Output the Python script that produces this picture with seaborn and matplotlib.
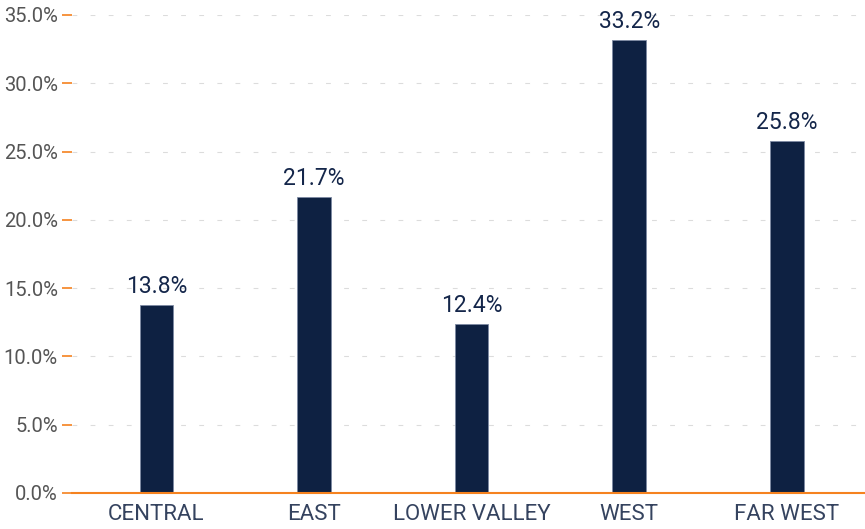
import matplotlib
matplotlib.use("Agg")
import matplotlib.pyplot as plt
import seaborn as sns
import pandas as pd

# data
regions = ["CENTRAL", "EAST", "LOWER VALLEY", "WEST", "FAR WEST"]
shares = [13.8, 21.7, 12.4, 33.2, 25.8]
y_ticks = [0, 5, 10, 15, 20, 25, 30, 35]

navy = "#0e2142"
orange = "#f5821f"

sns.set_theme(style="white")
plt.rcParams["font.family"] = ["Roboto", "DejaVu Sans"]

df = pd.DataFrame({"region": regions, "share": shares})

fig = plt.figure(figsize=(8.65, 5.29), dpi=100)
ax = fig.add_axes([72 / 865, 36 / 529, 793 / 865, 478 / 529])

sns.barplot(data=df, x="region", y="share", color=navy, width=0.213,
            edgecolor="#7d8aa3", linewidth=0.6, saturation=1, ax=ax, zorder=3)

# value labels
ax.bar_label(ax.containers[0], labels=[f"{v:.1f}%" for v in shares],
             padding=5, fontsize=16.5, color="#14264a")

ax.set_xlim(-0.536, 4.496)
ax.set_ylim(0, 35)
ax.set_yticks(y_ticks)
ax.set_yticklabels([f"{t:.1f}%" for t in y_ticks])
ax.set_xlabel("")
ax.set_ylabel("")

# dashed grid
ax.yaxis.grid(True, color="#dcdcdc", linewidth=0.8, linestyle=(0, (4.3, 12)))
ax.set_axisbelow(True)

for side in ["top", "right", "left"]:
    ax.spines[side].set_visible(False)
ax.spines["bottom"].set_color(orange)
ax.spines["bottom"].set_linewidth(1.5)
ax.spines["bottom"].set_zorder(4)

ax.tick_params(axis="y", length=7.2, width=1.2, color=orange, left=True,
               labelsize=14.5, labelcolor="#555555", pad=3)
ax.tick_params(axis="x", length=0, labelsize=16, labelcolor="#35435f", pad=8)

fig.savefig("out.png", dpi=100)
